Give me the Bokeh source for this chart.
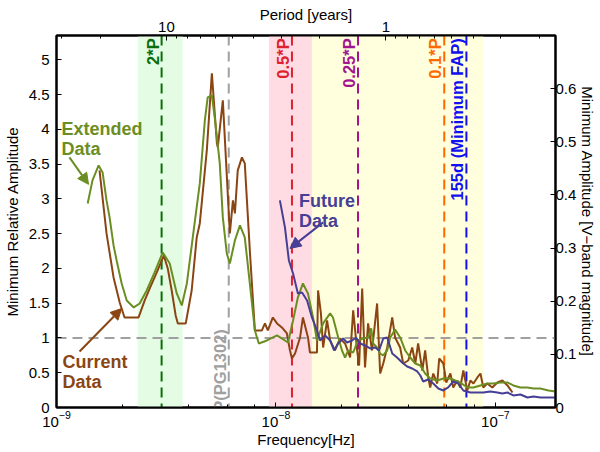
import numpy as np
from bokeh.plotting import figure
from bokeh.models import (Range1d, LogAxis, LinearAxis, FixedTicker, LogTicker,
                          CustomJSTickFormatter, BoxAnnotation, Span, Arrow, NormalHead)
from bokeh.core.properties import value
from bokeh.embed import file_html
from bokeh.resources import INLINE

FONT = "Liberation Sans"
YEAR = 31557600.0

# ---- data (log10 frequency [Hz], relative amplitude) ----
ext_logf = [-8.858, -8.836, -8.808, -8.790, -8.772, -8.758, -8.740, -8.726, -8.703, -8.680,
            -8.648, -8.621, -8.589, -8.553, -8.516, -8.484, -8.452, -8.429, -8.406, -8.379,
            -8.347, -8.324, -8.311, -8.292, -8.279, -8.256, -8.242, -8.224, -8.210, -8.187,
            -8.164, -8.142, -8.119, -8.096, -8.078, -8.041, -7.995, -7.945, -7.922, -7.900,
            -7.877, -7.854, -7.831, -7.813, -7.785, -7.753, -7.740, -7.721, -7.699, -7.685,
            -7.671, -7.648, -7.626, -7.603, -7.580, -7.566, -7.557, -7.539, -7.525, -7.511,
            -7.493, -7.479, -7.457, -7.434, -7.411, -7.388, -7.365, -7.342, -7.320, -7.297,
            -7.265, -7.237, -7.205, -7.183, -7.160, -7.128, -7.100, -7.068, -7.037, -7.009,
            -6.977, -6.945, -6.918, -6.886, -6.854, -6.826, -6.795, -6.758, -6.726]
ext_amp = [2.935, 3.266, 3.482, 3.381, 2.978, 2.734, 2.331, 2.115, 1.784, 1.540,
           1.439, 1.496, 1.683, 1.942, 2.230, 2.072, 1.640, 1.468, 1.784, 2.446,
           3.223, 4.129, 4.460, 4.489, 4.173, 3.511, 2.734, 2.216, 2.072, 2.403,
           2.619, 2.446, 1.784, 1.108, 0.921, 0.964, 1.036, 0.935, 1.252, 1.583,
           1.784, 1.640, 1.295, 0.964, 1.209, 1.353, 1.295, 1.065, 0.820, 0.719,
           0.820, 0.791, 0.964, 0.993, 1.007, 1.137, 0.921, 0.863, 0.777, 0.748,
           0.820, 1.007, 1.122, 1.007, 0.820, 0.719, 0.633, 0.604, 0.489, 0.417,
           0.388, 0.417, 0.417, 0.388, 0.360, 0.288, 0.288, 0.317, 0.345, 0.345,
           0.360, 0.360, 0.317, 0.288, 0.288, 0.273, 0.273, 0.245, 0.230]

cur_logf = [-8.804, -8.772, -8.740, -8.712, -8.690, -8.626, -8.598, -8.575, -8.543, -8.511,
            -8.493, -8.475, -8.457, -8.447, -8.411, -8.384, -8.361, -8.347, -8.315, -8.292,
            -8.269, -8.265, -8.242, -8.210, -8.196, -8.187, -8.174, -8.155, -8.142, -8.119,
            -8.096, -8.064, -8.050, -8.037, -8.014, -7.995, -7.973, -7.950, -7.936, -7.927,
            -7.913, -7.890, -7.877, -7.854, -7.845, -7.813, -7.808, -7.795, -7.785, -7.767,
            -7.753, -7.731, -7.708, -7.685, -7.662, -7.648, -7.630, -7.621, -7.607, -7.594,
            -7.580, -7.562, -7.539, -7.525, -7.511, -7.493, -7.470, -7.457, -7.434, -7.420,
            -7.397, -7.379, -7.365, -7.352, -7.333, -7.320, -7.306, -7.297, -7.283, -7.265,
            -7.256, -7.237, -7.224, -7.205, -7.192, -7.174, -7.160, -7.146, -7.128, -7.114,
            -7.100, -7.082, -7.068, -7.055, -7.037, -7.014, -6.991, -6.968, -6.945, -6.922]
cur_amp = [3.410, 2.504, 1.871, 1.511, 1.295, 1.295, 1.540, 1.712, 1.942, 2.187,
           2.000, 1.683, 1.324, 1.209, 1.209, 1.683, 2.446, 2.647, 3.698, 4.806,
           3.799, 3.741, 4.417, 2.504, 2.978, 2.791, 3.410, 3.597, 3.511, 2.259,
           1.108, 1.108, 1.209, 1.108, 1.295, 1.209, 1.151, 1.065, 0.820, 0.705,
           0.777, 1.007, 1.295, 1.007, 0.791, 0.791, 1.683, 1.353, 0.863, 1.252,
           0.964, 0.820, 0.993, 0.921, 0.719, 1.396, 0.820, 0.604, 1.712, 0.576,
           1.209, 0.820, 1.496, 0.489, 0.633, 0.863, 1.295, 1.007, 0.863, 0.633,
           0.676, 0.863, 0.633, 0.921, 0.532, 0.820, 0.432, 0.288, 0.489, 0.345,
           0.705, 0.633, 0.360, 0.489, 0.288, 0.388, 0.288, 0.532, 0.245, 0.388,
           0.345, 0.432, 0.489, 0.288, 0.345, 0.288, 0.360, 0.388, 0.317, 0.216]

fut_logf = [-7.982, -7.959, -7.941, -7.922, -7.900, -7.881, -7.858, -7.836, -7.813, -7.799,
            -7.776, -7.753, -7.735, -7.717, -7.694, -7.676, -7.653, -7.635, -7.616, -7.594,
            -7.571, -7.548, -7.530, -7.511, -7.493, -7.470, -7.448, -7.425, -7.402, -7.379,
            -7.356, -7.342, -7.329, -7.306, -7.283, -7.260, -7.237, -7.215, -7.192, -7.169,
            -7.146, -7.114, -7.082, -7.055, -7.023, -6.991, -6.968, -6.945, -6.918, -6.886,
            -6.854, -6.826, -6.795, -6.763, -6.726]
fut_amp = [2.978, 2.590, 2.115, 1.928, 1.640, 1.655, 1.540, 1.295, 1.108, 0.964,
           1.036, 0.964, 0.820, 0.921, 0.993, 0.935, 0.964, 1.007, 0.921, 0.892,
           0.849, 0.863, 0.820, 0.993, 1.007, 0.777, 0.719, 0.647, 0.590, 0.561,
           0.518, 0.460, 0.374, 0.403, 0.345, 0.273, 0.245, 0.288, 0.374, 0.345,
           0.245, 0.216, 0.216, 0.216, 0.230, 0.216, 0.201, 0.216, 0.173, 0.187,
           0.144, 0.158, 0.144, 0.144, 0.144]

marker_names = ["2*P", "0.5*P", "0.25*P", "0.1*P", "155d (Minimum FAP)"]
marker_logf = [-8.521, -7.927, -7.626, -7.233, -7.132]
marker_colors = ["#0B6E0B", "#E0202E", "#A3158F", "#FF6A00", "#1010F0"]
pg_name = "P(PG1302)"
pg_logf = -8.215
pg_color = "#A0A0A0"

band_lo = [-8.630, -8.032, -7.836]
band_hi = [-8.425, -7.836, -7.055]
band_colors = ["#E4FCE4", "#FFDCE4", "#FFFEDD"]

left_ticks = [0, 0.5, 1, 1.5, 2, 2.5, 3, 3.5, 4, 4.5, 5]
right_ticks = [0, 0.1, 0.2, 0.3, 0.4, 0.5, 0.6]
top_periods = [10, 1]
top_minor_periods = [30, 20, 9, 8, 7, 6, 5, 4, 3, 2, 0.9, 0.8, 0.7, 0.6, 0.5, 0.4, 0.3, 0.2]
right_label = "Minimum Amplitude [V\u2212band magnitude]"

BROWN = "#8B4513"
OLIVE = "#6B8E23"
PURPLE = "#473E96"

XMAX_LOG = -6.726
YMAX = 5.35

p = figure(width=600, height=452, x_axis_type="log",
           x_range=Range1d(1e-9, 10 ** XMAX_LOG), y_range=Range1d(0, YMAX),
           x_axis_location=None, y_axis_location=None,
           output_backend="svg", toolbar_location=None,
           min_border_left=49, min_border_right=45, min_border_top=35, min_border_bottom=45)
p.extra_y_ranges = {"mag": Range1d(0, 0.70)}
p.xgrid.visible = False
p.ygrid.visible = False
p.outline_line_color = "black"
p.outline_line_width = 2
p.background_fill_color = "white"
p.border_fill_color = "white"

fmt = CustomJSTickFormatter(code="return String(Math.round(tick*100)/100);")


def style_axis(ax):
    ax.axis_line_color = "black"
    ax.axis_line_width = 2
    ax.major_tick_in = 5
    ax.major_tick_out = 0
    ax.minor_tick_in = 3
    ax.minor_tick_out = 0
    ax.major_tick_line_width = 1
    ax.minor_tick_line_width = 1
    ax.major_label_text_font = FONT
    ax.major_label_text_font_size = "15px"
    ax.major_label_text_color = "black"
    ax.axis_label_text_font = FONT
    ax.axis_label_text_font_size = "15px"
    ax.axis_label_text_font_style = "normal"
    ax.axis_label_text_color = "black"


xb = LogAxis(ticker=LogTicker(), axis_label="Frequency[Hz]")
style_axis(xb)
xb.major_label_standoff = 3
xb.axis_label_standoff = 1
p.add_layout(xb, "below")

xt = LogAxis(ticker=FixedTicker(ticks=[1.0 / (t * YEAR) for t in top_periods],
                                minor_ticks=[1.0 / (t * YEAR) for t in top_minor_periods]),
             formatter=CustomJSTickFormatter(code="const y = 1/(tick*31557600); return y >= 1 ? y.toFixed(0) : y.toFixed(1);"),
             axis_label="Period [years]")
style_axis(xt)
xt.major_label_standoff = 4
xt.axis_label_standoff = -4
p.add_layout(xt, "above")

yl = LinearAxis(ticker=FixedTicker(ticks=left_ticks), formatter=fmt,
                axis_label="Minimum Relative Amplitude")
style_axis(yl)
yl.major_label_standoff = 7
yl.axis_label_standoff = 5
p.add_layout(yl, "left")

yr = LinearAxis(y_range_name="mag", ticker=FixedTicker(ticks=right_ticks), formatter=fmt,
                axis_label=right_label)
style_axis(yr)
yr.major_label_standoff = 0
yr.axis_label_standoff = 0
p.add_layout(yr, "right")

# shaded bands
for lo, hi, c in zip(band_lo, band_hi, band_colors):
    p.add_layout(BoxAnnotation(left=10 ** lo, right=10 ** hi, fill_color=c, fill_alpha=1.0,
                               line_alpha=0, level="underlay"))

# reference lines
p.add_layout(Span(location=1, dimension="width", line_color="#A0A0A0", line_width=2,
                  line_dash="10 6", level="underlay"))
p.add_layout(Span(location=10 ** pg_logf, dimension="height", line_color=pg_color, line_width=2,
                  line_dash="10 6", level="underlay"))
for lf, c in zip(marker_logf, marker_colors):
    p.add_layout(Span(location=10 ** lf, dimension="height", line_color=c, line_width=2,
                      line_dash="10 6", level="underlay"))

# curves
p.line([10 ** v for v in cur_logf], cur_amp, line_color=BROWN, line_width=2)
p.line([10 ** v for v in ext_logf], ext_amp, line_color=OLIVE, line_width=2)
p.line([10 ** v for v in fut_logf], fut_amp, line_color=PURPLE, line_width=2)

# vertical line labels
p.text(x=[10 ** v for v in marker_logf], y=[5.31] * len(marker_logf), text=marker_names,
       angle=np.pi / 2, text_align="right", text_baseline="bottom",
       text_font=value(FONT), text_font_style="bold", text_font_size="16.5px",
       text_color=marker_colors)
p.text(x=[10 ** pg_logf], y=[-0.06], text=[pg_name], angle=np.pi / 2,
       text_align="left", text_baseline="bottom", text_font=value(FONT),
       text_font_style="bold", text_font_size="16.5px", text_color=pg_color)

# annotations
notes = [("Extended\nData", -8.977, 4.15, OLIVE),
         ("Current\nData", -8.973, 0.80, BROWN),
         ("Future\nData", -7.895, 3.12, PURPLE)]
for t, lx, yy, c in notes:
    p.text(x=[10 ** lx], y=[yy], text=[t], text_align="left", text_baseline="top",
           text_font=value(FONT), text_font_style="bold", text_font_size="18px",
           text_line_height=1.0, text_color=c)

arrows = [(-8.941, 3.597, -8.854, 3.209, OLIVE),
          (-8.895, 0.806, -8.703, 1.424, BROWN),
          (-7.785, 2.662, -7.936, 2.288, PURPLE)]
for x0, y0, x1, y1, c in arrows:
    p.add_layout(Arrow(end=NormalHead(size=11, fill_color=c, line_color=c),
                       x_start=10 ** x0, y_start=y0, x_end=10 ** x1, y_end=y1,
                       line_color=c, line_width=2))

open("out.html", "w").write(file_html(p, INLINE))
